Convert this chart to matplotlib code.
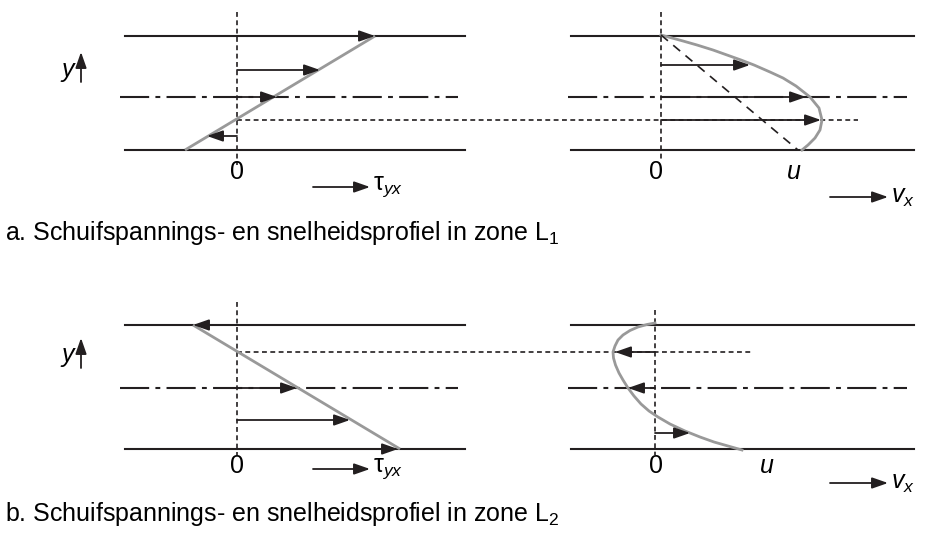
import matplotlib
matplotlib.use("Agg")
import matplotlib.pyplot as plt

plt.rcParams['font.family'] = ['Liberation Sans', 'DejaVu Sans']
plt.rcParams['mathtext.fontset'] = 'custom'
plt.rcParams['mathtext.rm'] = 'Liberation Sans'
plt.rcParams['mathtext.it'] = 'Liberation Sans:italic'
plt.rcParams['lines.scale_dashes'] = False

# Kanaal: wanden, hartlijn (pixelcoordinaten van de figuur)
wall_left = [125, 465]
wall_right = [571, 914]
axis_left = [120, 458]
axis_right = [568, 907]

# Zone L1
walls_1 = [36, 150]
mid_1 = 97
zero_1 = 120
tau0_1 = 237
v0_1 = 661
tau_line_1 = ([185, 375], [150, 36])
tau_arrows_1_y = [36, 70, 97, 136]
tau_arrows_1_x = [375, 320, 277, 207]
v_prof_1_y = [35, 38, 41, 45, 50, 55, 60, 65, 72, 78, 86, 97, 108, 120, 130, 138, 145, 150]
v_prof_1_x = [661, 672, 683, 697, 713, 727, 741, 754, 770, 783, 796, 810, 819, 822, 820, 815, 808, 802]
v_arrows_1_y = [65, 97, 120]
v_arrows_1_x = [750, 806, 821]
couette_1 = ([661, 798], [35, 150])

# Zone L2
walls_2 = [325, 449]
mid_2 = 388
zero_2 = 352
tau0_2 = 237
v0_2 = 655
tau_line_2 = ([193, 400], [325, 449])
tau_arrows_2_y = [325, 388, 420, 449]
tau_arrows_2_x = [193, 297, 350, 398]
v_prof_2_x = [655, 647, 638, 630, 623, 618, 615, 613, 613.5, 615.5, 619, 623, 628,
              634, 641, 649, 658, 670, 685, 700, 714, 728, 742]
v_prof_2_y = [323, 324.5, 327, 330.5, 335, 340, 346, 352, 358, 365, 373, 380, 388,
              396, 404, 411, 417, 424, 431, 437, 442, 446, 450]
v_arrows_2_y = [352, 388, 433]
v_arrows_2_x = [615, 628, 690]

black = '#231f20'
grey = '#999999'

fig = plt.figure(figsize=(9.25, 5.34), dpi=100)
ax = fig.add_axes([0, 0, 1, 1])
ax.set_xlim(0, 925)
ax.set_ylim(534, 0)
ax.axis('off')


def arrow(x1, y1, x2, y2, lw=1.3):
    ax.annotate('', xy=(x2, y2), xytext=(x1, y1),
                arrowprops=dict(arrowstyle='-|>,head_length=0.8,head_width=0.28',
                                mutation_scale=12, color=black, lw=lw,
                                shrinkA=0, shrinkB=0))


dashdot = (0, (21, 4.5, 3.5, 4.5))
short_dash = (0, (3.5, 2.5))

for walls, mid in [(walls_1, mid_1), (walls_2, mid_2)]:
    for y in walls:
        ax.plot(wall_left, [y, y], color=black, lw=1.5)
        ax.plot(wall_right, [y, y], color=black, lw=1.5)
    ax.plot(axis_left, [mid, mid], color=black, lw=1.5, linestyle=dashdot)
    ax.plot(axis_right, [mid, mid], color=black, lw=1.5, linestyle=dashdot)

# verticale nullijnen
ax.plot([tau0_1, tau0_1], [12, 165], color=black, lw=1.2, linestyle=short_dash)
ax.plot([v0_1, v0_1], [12, 162], color=black, lw=1.2, linestyle=short_dash)
ax.plot([tau0_2, tau0_2], [302, 455], color=black, lw=1.2, linestyle=short_dash)
ax.plot([v0_2, v0_2], [310, 455], color=black, lw=1.2, linestyle=short_dash)

# horizontale stippellijn bij tau = 0
ax.plot([tau0_1, 858], [zero_1, zero_1], color=black, lw=1.2, linestyle=short_dash)
ax.plot([tau0_2, 752], [zero_2, zero_2], color=black, lw=1.2, linestyle=short_dash)

# profielen
ax.plot(*tau_line_1, color=grey, lw=2, solid_capstyle='butt')
ax.plot(*tau_line_2, color=grey, lw=2, solid_capstyle='butt')
ax.plot(v_prof_1_x, v_prof_1_y, color=grey, lw=2, solid_joinstyle='round')
ax.plot(v_prof_2_x, v_prof_2_y, color=grey, lw=2, solid_joinstyle='round')
ax.plot(*couette_1, color=black, lw=1.2, linestyle=(0, (6.5, 5)))

for y, x in zip(tau_arrows_1_y, tau_arrows_1_x):
    arrow(tau0_1, y, x, y)
for y, x in zip(v_arrows_1_y, v_arrows_1_x):
    arrow(v0_1, y, x, y)
for y, x in zip(tau_arrows_2_y, tau_arrows_2_x):
    arrow(tau0_2, y, x, y)
for y, x in zip(v_arrows_2_y, v_arrows_2_x):
    arrow(v0_2, y, x, y)

fs = 18
# y-assen
for ytxt, ya in [(70, (82, 52)), (355, (368, 338))]:
    ax.text(68, ytxt, 'y', fontsize=fs, style='italic', ha='center', va='center')
    arrow(81, ya[0], 81, ya[1])

# labels zone L1
ax.text(tau0_1, 172, '0', fontsize=fs, ha='center', va='center')
ax.text(656, 172, '0', fontsize=fs, ha='center', va='center')
ax.text(794, 172, 'u', fontsize=fs, style='italic', ha='center', va='center')
arrow(313, 187, 370, 187)
ax.text(373, 187, 'τ$_{yx}$', fontsize=fs, ha='left', va='center')
arrow(830, 197, 888, 197)
ax.text(891, 197, '$v_x$', fontsize=fs, ha='left', va='center')
ax.text(5, 240, 'a. Schuifspannings- en snelheidsprofiel in zone L$_1$', fontsize=fs,
        ha='left', va='baseline')

# labels zone L2
ax.text(tau0_2, 466, '0', fontsize=fs, ha='center', va='center')
ax.text(656, 466, '0', fontsize=fs, ha='center', va='center')
ax.text(767, 466, 'u', fontsize=fs, style='italic', ha='center', va='center')
arrow(313, 469, 370, 469)
ax.text(373, 469, 'τ$_{yx}$', fontsize=fs, ha='left', va='center')
arrow(830, 483, 888, 483)
ax.text(891, 483, '$v_x$', fontsize=fs, ha='left', va='center')
ax.text(5, 521, 'b. Schuifspannings- en snelheidsprofiel in zone L$_2$', fontsize=fs,
        ha='left', va='baseline')

fig.savefig('out.png', dpi=100)
